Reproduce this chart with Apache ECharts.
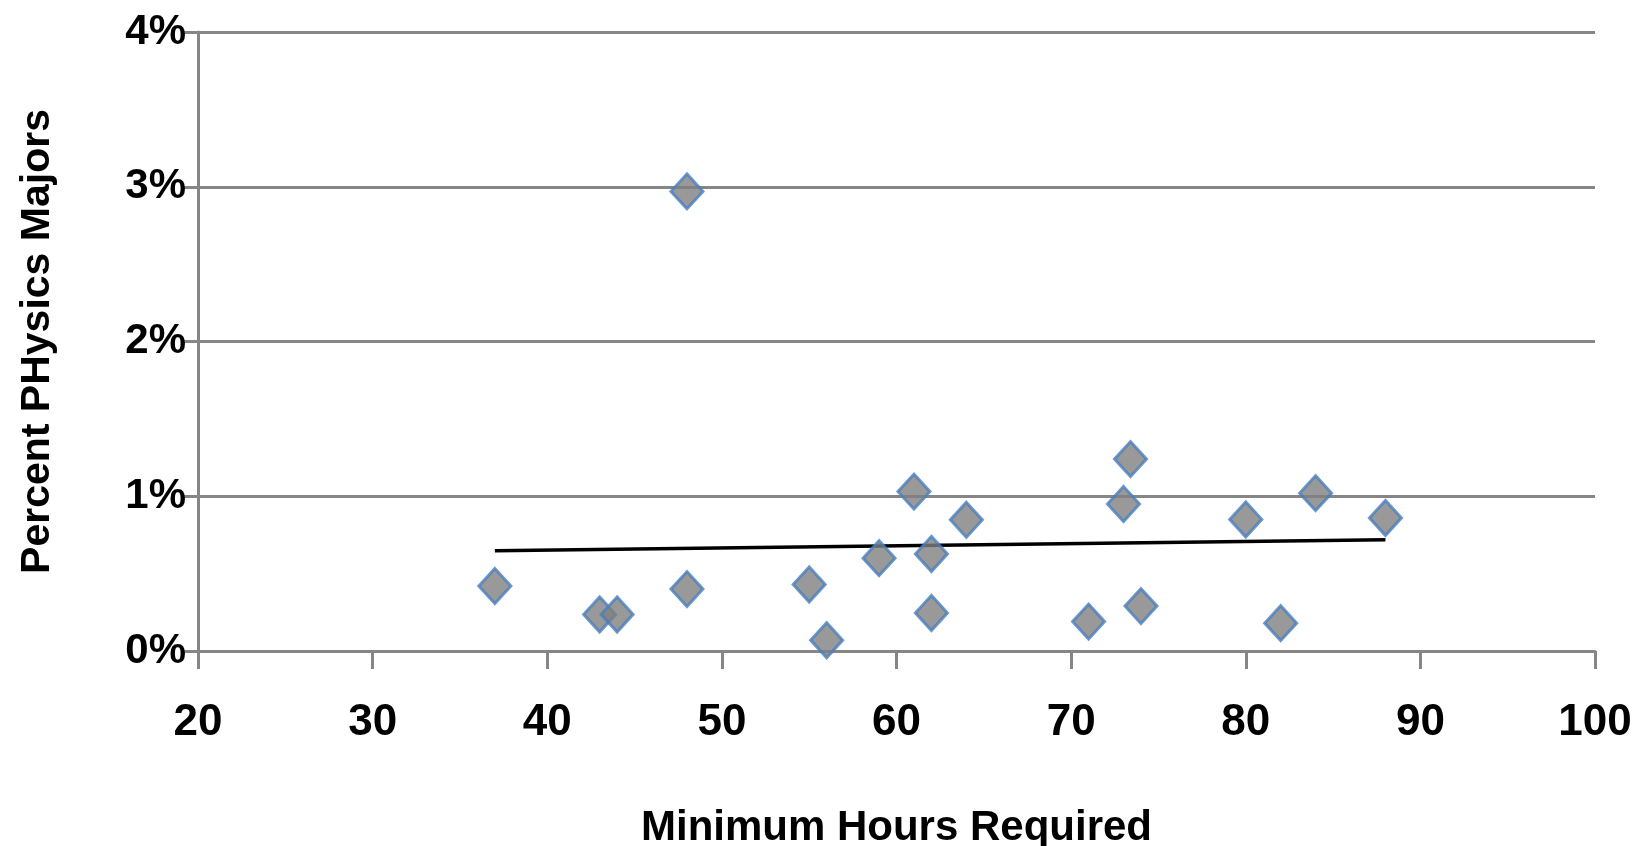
<!DOCTYPE html>
<html>
<head>
<meta charset="utf-8">
<script src="https://cdn.jsdelivr.net/npm/echarts@6/dist/echarts.min.js"></script>
<style>
html,body{margin:0;padding:0;background:#fff;}
#c{width:1635px;height:846px;}
</style>
</head>
<body>
<div id="c"></div>
<script>
// Minimum hours required (x) and percent physics majors (y, in %)
const hoursRequired = [37, 43, 44, 48, 48, 55, 56, 59, 61, 62, 62, 64, 71, 73, 73.4, 74, 80, 82, 84, 88];
const percentMajors = [0.42, 0.236, 0.236, 0.40, 2.97, 0.43, 0.07, 0.60, 1.03, 0.627, 0.246, 0.848, 0.19, 0.95, 1.24, 0.29, 0.85, 0.18, 1.02, 0.86];
const xTicks = [20, 30, 40, 50, 60, 70, 80, 90, 100];
const yTicks = [0, 1, 2, 3, 4];
const xTitle = 'Minimum Hours Required';
const yTitle = 'Percent PHysics Majors';

const points = hoursRequired.map((x, i) => [x, percentMajors[i]]);

// Linear trendline (least squares) derived from the data, like the spreadsheet's trendline
const n = points.length;
const mx = hoursRequired.reduce((a, b) => a + b, 0) / n;
const my = percentMajors.reduce((a, b) => a + b, 0) / n;
let sxy = 0, sxx = 0;
points.forEach(([x, y]) => { sxy += (x - mx) * (y - my); sxx += (x - mx) * (x - mx); });
const slope = sxy / sxx;
const intercept = my - slope * mx;
const xMin = Math.min(...hoursRequired), xMax = Math.max(...hoursRequired);
const trend = [[xMin, intercept + slope * xMin], [xMax, intercept + slope * xMax]];

const FONT = '"Liberation Sans", Arial, sans-serif';
const gridColor = '#868686';

const chart = echarts.init(document.getElementById('c'), null, {renderer: 'canvas'});
chart.setOption({
  animation: false,
  backgroundColor: '#ffffff',
  grid: {left: 198, right: 40, top: 32, bottom: 195, containLabel: false, outerBoundsMode: 'none'},
  xAxis: {
    type: 'value',
    min: xTicks[0], max: xTicks[xTicks.length - 1], interval: 10,
    name: xTitle,
    nameLocation: 'middle',
    nameGap: 156,
    nameTextStyle: {fontFamily: FONT, fontWeight: 'bold', fontSize: 42, color: '#000'},
    axisLine: {show: true, lineStyle: {color: gridColor, width: 3}},
    axisTick: {show: true, length: 18, lineStyle: {color: gridColor, width: 3}},
    axisLabel: {fontFamily: FONT, fontWeight: 'bold', fontSize: 44, color: '#000', margin: 50},
    splitLine: {show: false}
  },
  yAxis: {
    type: 'value',
    min: yTicks[0], max: yTicks[yTicks.length - 1], interval: 1,
    name: yTitle,
    nameLocation: 'middle',
    nameGap: 140,
    nameRotate: 90,
    nameTextStyle: {fontFamily: FONT, fontWeight: 'bold', fontSize: 41, color: '#000'},
    axisLine: {show: true, lineStyle: {color: gridColor, width: 3}},
    axisTick: {show: true, length: 14, lineStyle: {color: gridColor, width: 3}},
    axisLabel: {fontFamily: FONT, fontWeight: 'bold', fontSize: 42, color: '#000', margin: 12,
      formatter: v => v + '%'},
    splitLine: {show: true, lineStyle: {color: gridColor, width: 3}}
  },
  series: [
    {
      type: 'line',
      data: trend,
      symbol: 'none',
      lineStyle: {color: '#000', width: 3.5},
      z: 3
    },
    {
      type: 'scatter',
      data: points,
      symbol: 'diamond',
      symbolSize: [32, 35],
      itemStyle: {color: '#808080', borderColor: '#4a7ebb', borderWidth: 3},
      z: 4
    }
  ]
});
</script>
</body>
</html>
